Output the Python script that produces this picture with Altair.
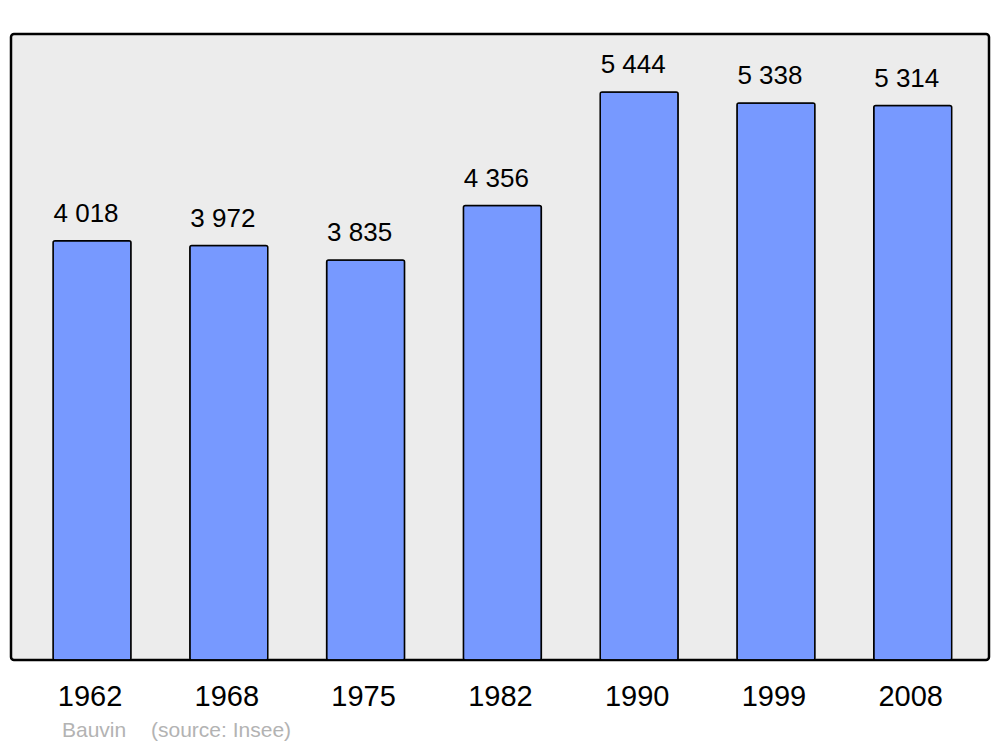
import altair as alt
import pandas as pd

years = ["1962", "1968", "1975", "1982", "1990", "1999", "2008"]
population = [4018, 3972, 3835, 4356, 5444, 5338, 5314]
labels = ["4 018", "3 972", "3 835", "4 356", "5 444", "5 338", "5 314"]

footer_texts = ["Bauvin", "(source: Insee)"]
footer_pos = [51, 140]

df = pd.DataFrame({"year": years, "pop": population, "label": labels})

x = alt.X("year:N", sort=years,
          scale=alt.Scale(paddingInner=0.43, paddingOuter=0.29, align=0.53),
          axis=alt.Axis(title=None, domain=False, ticks=False, labelAngle=0,
                        labelFontSize=29, labelColor="black", labelFont="Liberation Sans",
                        labelBaseline="alphabetic", labelPadding=45, labelOffset=-2))
y = alt.Y("pop:Q", scale=alt.Scale(domain=[0, 6000]), axis=None)

bars = alt.Chart(df).mark_bar(color="#7799ff", stroke="black", strokeWidth=1.5,
                              cornerRadius=2).encode(x=x, y=y)

text = alt.Chart(df).mark_text(fontSize=26, font="Liberation Sans", color="black",
                               baseline="alphabetic", dy=-19, dx=-6).encode(
    x=alt.X("year:N", sort=years), y="pop:Q", text="label:N")

layers = [bars, text]
for t, px in zip(footer_texts, footer_pos):
    layers.append(
        alt.Chart(pd.DataFrame({"t": [t]})).mark_text(
            fontSize=21, font="Liberation Sans", color="#b3b3b3",
            align="left", baseline="alphabetic").encode(
            x=alt.value(px), y=alt.value(703), text="t:N"))

chart = alt.layer(*layers).properties(
    width=978, height=626,
    autosize=alt.AutoSizeParams(type="none"),
    padding={"left": 3, "top": 26, "right": 3, "bottom": 81},
    background="white",
).configure_view(fill="#ececec", stroke="black", strokeWidth=2.5, cornerRadius=3)

chart.save("out.html", embed_options={"renderer": "svg", "actions": False})
